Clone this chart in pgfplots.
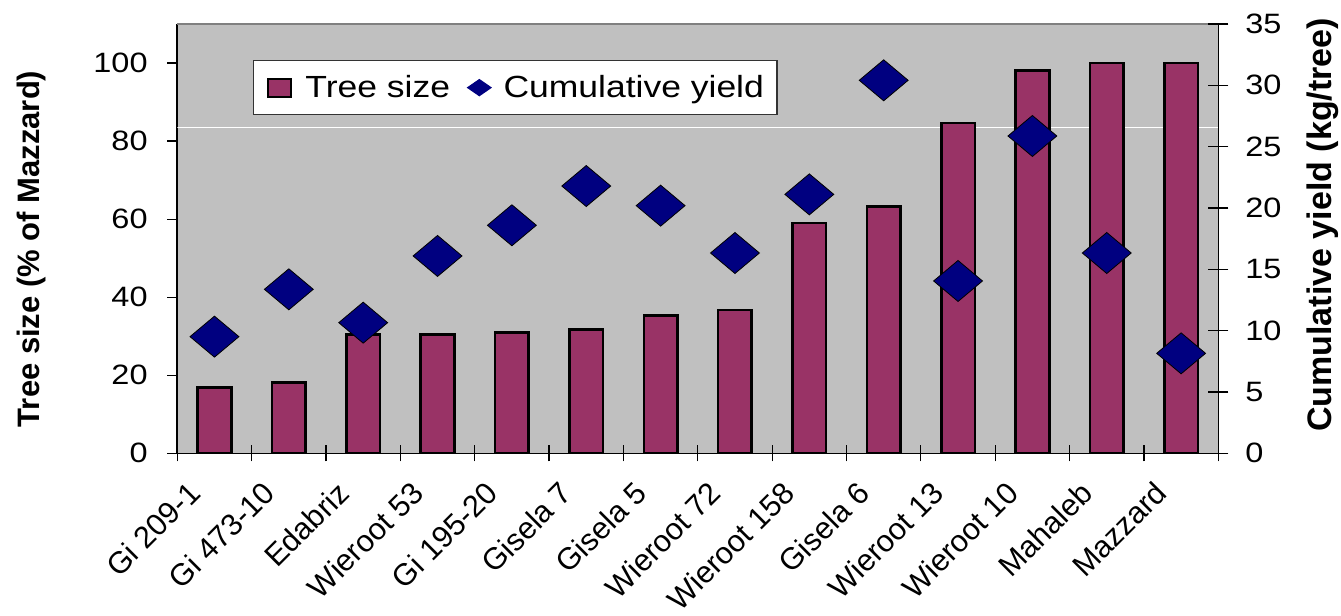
\documentclass[border=0pt]{standalone}
\usepackage{pgfplots}
\usepackage{pgfplotstable}
\pgfplotsset{compat=1.18}
\usepackage{fontspec}
\setmainfont{Liberation Sans}
\newfontfamily\hfont[FakeStretch=1.16]{Liberation Sans}
\definecolor{plum}{HTML}{993366}
\definecolor{navyb}{HTML}{000080}
\definecolor{plotgray}{HTML}{C0C0C0}

\pgfplotstableread{
x size yield
0 16.8 9.51
1 18.2 13.37
2 30.4 10.65
3 30.4 16.09
4 31.0 18.59
5 31.7 21.79
6 35.3 20.19
7 36.7 16.33
8 59.0 21.11
9 63.2 30.41
10 84.6 14.05
11 98.1 25.87
12 100 16.33
13 100 8.15
}\datatab

\begin{document}
\begin{tikzpicture}
\begin{axis}[
  at={(0pt,0pt)}, anchor=south west,
  scale only axis, width=520.5pt, height=214.65pt,
  xmin=-0.5, xmax=13.5, ymin=0, ymax=110,
  axis background/.style={fill=plotgray},
  axis x line*=bottom, axis y line*=left,
  axis line style={line width=0.8pt, black},
  xtick={0,...,13},
  xticklabels={Gi 209-1, Gi 473-10, Edabriz, Wieroot 53, Gi 195-20, Gisela 7, Gisela 5, Wieroot 72, Wieroot 158, Gisela 6, Wieroot 13, Wieroot 10, Mahaleb, Mazzard},
  major x tick style={draw=none},
  minor xtick={-0.5,0.5,...,13.5},
  minor x tick style={black, line width=0.6pt, yshift=4pt},
  minor tick length=8pt,
  ytick={0,20,...,100},
  major tick length=5pt,
  tick align=outside,
  y tick style={black, line width=0.6pt},
  xticklabel style={font=\fontsize{15.3}{18}\selectfont, xshift=-14pt, yshift=-8pt, rotate=45, anchor=north east, inner sep=0pt},
  yticklabel style={font=\fontsize{14}{16}\hfont, anchor=east, inner sep=0pt, xshift=-9.65pt},
  /pgf/number format/assume math mode=true,
  ylabel={Tree size (\% of Mazzard)},
  ylabel style={font=\fontsize{15.5}{18}\bfseries, at={(axis description cs:-0.1396,0.476)}, anchor=center},
  after end axis/.code={\draw[black!50, line width=0.6pt] (rel axis cs:0,1) -- (rel axis cs:1,1);},
]
\addplot[white, line width=0.6pt, forget plot] coordinates {(-0.5,83.5) (13.5,83.5)};
\addplot[ybar, bar width=16.8pt, fill=plum, draw=black, line width=1.3pt] table[x=x, y=size] {\datatab};
\end{axis}
\begin{axis}[
  at={(0pt,0pt)}, anchor=south west,
  scale only axis, width=520.5pt, height=214.65pt,
  xmin=-0.5, xmax=13.5, ymin=0, ymax=35,
  axis x line=none, axis y line*=right,
  axis line style={line width=0.8pt, black},
  ytick={0,5,...,35},
  tick align=center, major tick length=10pt,
  y tick style={black, line width=0.6pt},
  yticklabel style={font=\fontsize{14}{16}\hfont, anchor=west, inner sep=0pt, xshift=8.35pt},
  /pgf/number format/assume math mode=true,
  extra description/.code={\node[rotate=90, font=\fontsize{17}{20}\bfseries, anchor=center, inner sep=0pt] at (axis description cs:1.1006,0.532) {Cumulative yield (kg/tree)};},
  legend columns=2,
  legend style={at={(axis description cs:0.073,0.9165)}, anchor=north west, draw=black!80, line width=0.6pt, fill=white, font=\fontsize{15.3}{18}\hfont, inner xsep=6.5pt, inner ysep=4.3pt, nodes={inner xsep=0pt, inner ysep=3pt}, /tikz/every even column/.append style={column sep=8.5pt}},
]
\addplot[only marks, mark=diamond*, mark size=10.25pt, mark options={fill=navyb, draw=none, xscale=1.59}, forget plot] table[x=x, y=yield] {\datatab};
\addlegendimage{legend image code/.code={\draw[fill=plum, draw=black, line width=1pt] (0pt,-4.5pt) rectangle (11.5pt,4.5pt); \path (18.5pt,0pt);}}
\addlegendentry{Tree size}
\addlegendimage{legend image code/.code={\fill[navyb] (0pt,0pt) -- (5.8pt,4pt) -- (11.6pt,0pt) -- (5.8pt,-4pt) -- cycle; \path (17.6pt,0pt);}}
\addlegendentry{Cumulative yield}
\end{axis}
\pgfresetboundingbox
\path (-88.65pt,-81.35pt) rectangle (581.85pt,226.65pt);
\end{tikzpicture}
\end{document}
